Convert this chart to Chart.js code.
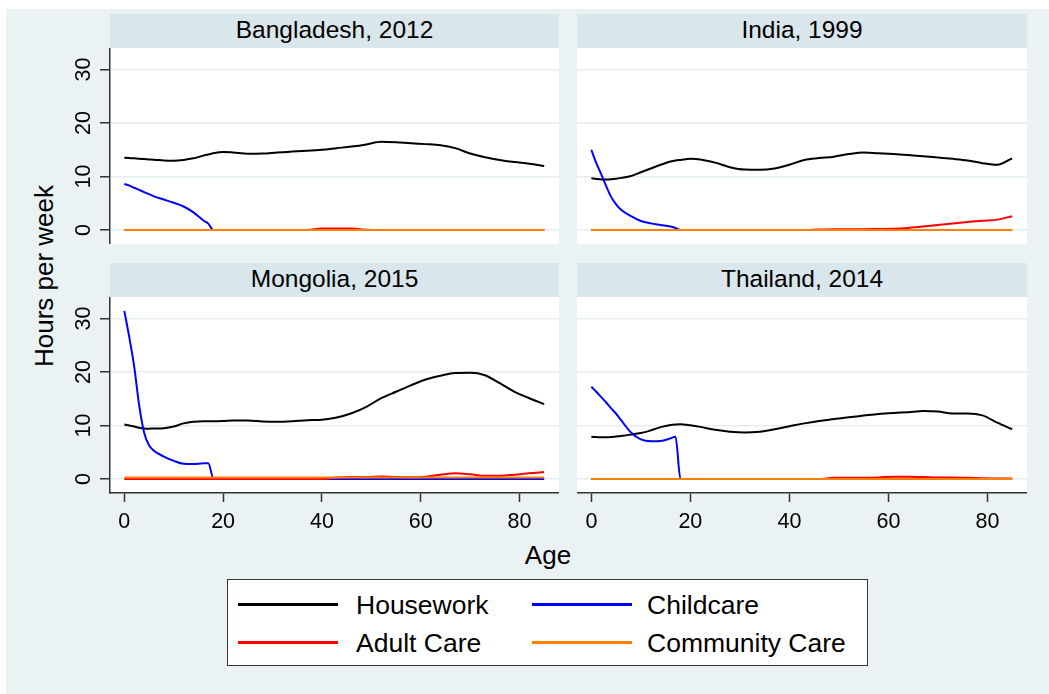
<!DOCTYPE html>
<html>
<head>
<meta charset="utf-8">
<script src="https://cdn.jsdelivr.net/npm/chart.js@4.4.1/dist/chart.umd.min.js"></script>
<style>
  html, body { margin: 0; padding: 0; background: #fff; }
  body { width: 1049px; height: 694px; position: relative; overflow: hidden;
         font-family: "Liberation Sans", Arial, sans-serif; color: #000; }
  #frame { position: absolute; left: 6px; top: 9px; right: 0; bottom: 0; background: #eaf2f3; }
  .strip { position: absolute; height: 34px; line-height: 32px; background: #d9e6eb;
           text-align: center; font-size: 24.5px; white-space: nowrap; }
  canvas { position: absolute; }
  #ytitle { position: absolute; left: -56px; top: 263px; width: 200px; height: 26px;
            line-height: 26px; font-size: 26px; text-align: center; transform: rotate(-90deg); }
  #xtitle { position: absolute; left: 448px; top: 542px; width: 200px; height: 26px;
            line-height: 26px; font-size: 26px; text-align: center; }
  #legend { position: absolute; left: 227px; top: 579px; width: 641px; height: 87px;
            box-sizing: border-box; border: 1.5px solid #333; background: #fff; }
  #legend .swatch { position: absolute; width: 100px; height: 2.5px; }
  #legend .label { position: absolute; font-size: 26.5px; line-height: 26px; white-space: nowrap; }
</style>
</head>
<body>
<div id="frame"></div>
<div id="ytitle">Hours per week</div>
<div id="xtitle">Age</div>
<div id="legend"></div>

<script>
// ages at which the smoothed hours were read
const ages = [0, 1, 2, 3, 4, 5, 6, 8, 10, 12, 14, 16, 17, 18, 20, 22, 25, 28, 31, 34, 37,
              40, 43, 46, 49, 52, 55, 58, 61, 64, 67, 70, 73, 76, 79, 82, 85];

const xTicks = [0, 20, 40, 60, 80];
const yTicks = [0, 10, 20, 30];

const seriesNames = ['Housework', 'Childcare', 'Adult Care', 'Community Care'];
const seriesColors = ['#000000', '#0000ff', '#ff0000', '#ff7f00'];

const zeros = ages.map(() => 0);

// Bangladesh, 2012
const bdHousework = [13.5, 13.45, 13.4, 13.3, 13.25, 13.2, 13.15, 13.0, 12.95, 13.1, 13.4, 13.9, 14.1, 14.35,
                     14.6, 14.5, 14.25, 14.3, 14.5, 14.65, 14.8, 15.0, 15.3, 15.6, 16.0, 16.5, 16.4, 16.2,
                     16.05, 15.85, 15.3, 14.3, 13.6, 13.1, 12.7, 12.4, 11.95];
const bdChildcare = [8.6, 8.3, 7.9, 7.5, 7.1, 6.7, 6.3, 5.7, 5.1, 4.4, 3.3, 1.8, 1.2, 0,
                     0, 0, 0, 0, 0, 0, 0, 0, 0, 0, 0, 0, 0, 0, 0, 0, 0, 0, 0, 0, 0, 0, 0];
const bdAdultCare = [0, 0, 0, 0, 0, 0, 0, 0, 0, 0, 0, 0, 0, 0, 0, 0, 0, 0, 0, 0, 0,
                     0.3, 0.3, 0.3, 0.05, 0, 0, 0, 0, 0, 0, 0, 0, 0, 0, 0, 0];
const bdCommunity = zeros;

// India, 1999
const inHousework = [9.7, 9.55, 9.45, 9.45, 9.5, 9.6, 9.75, 10.1, 10.8, 11.5, 12.2, 12.8, 13.0, 13.1,
                     13.3, 13.2, 12.6, 11.75, 11.3, 11.25, 11.5, 12.2, 13.1, 13.45, 13.7, 14.2, 14.5, 14.35,
                     14.2, 14.0, 13.8, 13.55, 13.3, 13.0, 12.5, 12.2, 13.4];
const inChildcare = [15.0, 12.5, 10.4, 8.2, 6.2, 4.8, 3.8, 2.6, 1.7, 1.25, 0.95, 0.65, 0.4, 0,
                     0, 0, 0, 0, 0, 0, 0, 0, 0, 0, 0, 0, 0, 0, 0, 0, 0, 0, 0, 0, 0, 0, 0];
const inAdultCare = [0, 0, 0, 0, 0, 0, 0, 0, 0, 0, 0, 0, 0, 0, 0, 0, 0, 0, 0, 0, 0, 0, 0,
                     0.1, 0.15, 0.15, 0.15, 0.2, 0.25, 0.4, 0.65, 0.95, 1.25, 1.5, 1.75, 1.95, 2.6];
const inCommunity = zeros;

// Mongolia, 2015
const mnHousework = [10.2, 10.0, 9.8, 9.6, 9.45, 9.4, 9.45, 9.5, 9.8, 10.4, 10.7, 10.8, 10.8, 10.8,
                     10.85, 10.95, 10.95, 10.75, 10.7, 10.8, 11.0, 11.1, 11.5, 12.3, 13.5, 15.1, 16.3, 17.5,
                     18.6, 19.3, 19.8, 19.85, 19.4, 17.9, 16.3, 15.1, 14.0];
const mnChildcare = [31.4, 26.5, 21.0, 13.8, 8.7, 6.3, 5.3, 4.2, 3.4, 2.85, 2.8, 2.95, 2.95, 0.2,
                     0, 0, 0, 0, 0, 0, 0, 0, 0, 0, 0, 0, 0, 0, 0, 0, 0, 0, 0, 0, 0, 0, 0];
const mnAdultCare = [0, 0, 0, 0, 0, 0, 0, 0, 0, 0, 0, 0, 0, 0, 0, 0, 0, 0, 0, 0, 0, 0,
                     0.3, 0.4, 0.35, 0.5, 0.4, 0.35, 0.45, 0.8, 1.1, 0.9, 0.6, 0.6, 0.8, 1.1, 1.3];
const mnCommunity = ages.map(() => 0.3);

// Thailand, 2014
const thHousework = [7.9, 7.85, 7.8, 7.8, 7.85, 7.95, 8.05, 8.3, 8.6, 9.1, 9.7, 10.1, 10.2, 10.25,
                     10.05, 9.75, 9.2, 8.85, 8.7, 8.85, 9.3, 9.85, 10.4, 10.85, 11.2, 11.55, 11.85, 12.15,
                     12.35, 12.5, 12.7, 12.6, 12.25, 12.25, 11.9, 10.55, 9.3];
const thChildcare = [17.25, 16.3, 15.3, 14.3, 13.2, 12.2, 11.0, 8.7, 7.4, 7.05, 7.1, 7.6, 7.9, 0,
                     0, 0, 0, 0, 0, 0, 0, 0, 0, 0, 0, 0, 0, 0, 0, 0, 0, 0, 0, 0, 0, 0, 0];
const thAdultCare = [0, 0, 0, 0, 0, 0, 0, 0, 0, 0, 0, 0, 0, 0, 0, 0, 0, 0, 0, 0, 0, 0, 0, 0,
                     0.25, 0.25, 0.25, 0.3, 0.45, 0.45, 0.4, 0.3, 0.3, 0.25, 0.15, 0.1, 0.1];
const thCommunity = zeros;

const panelTitles = ['Bangladesh, 2012', 'India, 1999', 'Mongolia, 2015', 'Thailand, 2014'];
const panelValues = [
  [bdHousework, bdChildcare, bdAdultCare, bdCommunity],
  [inHousework, inChildcare, inAdultCare, inCommunity],
  [mnHousework, mnChildcare, mnAdultCare, mnCommunity],
  [thHousework, thChildcare, thAdultCare, thCommunity]
];

// page boxes: strip header and canvas for each panel (top-left, top-right, bottom-left, bottom-right)
const panelBoxes = [
  { strip: [110, 14, 449], canvas: [30, 48, 529, 196], showY: true,  showX: false },
  { strip: [577, 14, 450], canvas: [577, 48, 450, 196], showY: false, showX: false },
  { strip: [110, 263, 449], canvas: [30, 297, 529, 243], showY: true,  showX: true },
  { strip: [577, 263, 450], canvas: [577, 297, 450, 243], showY: false, showX: true }
];

const fontFamily = '"Liberation Sans", Arial, sans-serif';
Chart.defaults.font.family = fontFamily;
Chart.defaults.color = '#000';

// white plot region behind grid and lines
const plotBackground = {
  id: 'plotBackground',
  beforeDraw(chart) {
    const { ctx, chartArea: a } = chart;
    ctx.save();
    ctx.fillStyle = '#fff';
    ctx.fillRect(a.left, a.top, a.right - a.left, a.bottom - a.top);
    ctx.restore();
  }
};

function makePanel(idx) {
  const box = panelBoxes[idx];

  const strip = document.createElement('div');
  strip.className = 'strip';
  strip.style.left = box.strip[0] + 'px';
  strip.style.top = box.strip[1] + 'px';
  strip.style.width = box.strip[2] + 'px';
  strip.textContent = panelTitles[idx];
  document.body.appendChild(strip);

  const canvas = document.createElement('canvas');
  canvas.width = box.canvas[2];
  canvas.height = box.canvas[3];
  canvas.style.left = box.canvas[0] + 'px';
  canvas.style.top = box.canvas[1] + 'px';
  document.body.appendChild(canvas);

  const datasets = seriesNames.map((name, i) => ({
    label: name,
    data: ages.map((a, k) => ({ x: a, y: panelValues[idx][i][k] })),
    borderColor: seriesColors[i],
    borderWidth: 2,
    pointRadius: 0,
    fill: false,
    cubicInterpolationMode: 'monotone',
    order: 4 - i // community care ends up on top
  }));

  return new Chart(canvas, {
    type: 'line',
    data: { datasets: datasets },
    options: {
      responsive: false,
      animation: false,
      events: [],
      layout: { padding: 0 },
      plugins: { legend: { display: false }, tooltip: { enabled: false } },
      scales: {
        x: {
          type: 'linear',
          min: -2.9,
          max: 88,
          display: box.showX,
          afterBuildTicks: s => { s.ticks = xTicks.map(v => ({ value: v })); },
          afterFit: s => {
            if (box.showX) s.height = 47;
            s.paddingLeft = 0;
            s.paddingRight = 0;
          },
          grid: { drawOnChartArea: false, drawTicks: true, tickLength: 9, tickWidth: 1.5, tickColor: '#333' },
          border: { display: true, color: '#333', width: 1.5 },
          ticks: { padding: 7, maxRotation: 0, font: { size: 21.5 }, color: '#000' }
        },
        y: {
          type: 'linear',
          min: -2.6,
          max: 34,
          afterBuildTicks: s => { s.ticks = yTicks.map(v => ({ value: v })); },
          afterFit: s => {
            s.width = box.showY ? 80 : 0;
            s.paddingTop = 0;
            s.paddingBottom = 0;
          },
          grid: { color: '#e4edf0', lineWidth: 1.5, drawTicks: box.showY, tickLength: 10,
                  tickColor: '#333', tickWidth: 1.5 },
          border: { display: box.showY, color: '#333', width: 1.5 },
          ticks: { display: box.showY, padding: 4, minRotation: 90, maxRotation: 90,
                   crossAlign: 'center', font: { size: 21.5 }, color: '#000' }
        }
      }
    },
    plugins: [plotBackground]
  });
}

panelTitles.forEach((t, i) => makePanel(i));

// legend, two columns
const legend = document.getElementById('legend');
const legendCols = [[10, 128], [304, 419]];
const legendRows = [[23, 12], [61, 50]];
seriesNames.forEach((name, i) => {
  const col = legendCols[i % 2];
  const row = legendRows[Math.floor(i / 2)];
  const sw = document.createElement('div');
  sw.className = 'swatch';
  sw.style.left = col[0] + 'px';
  sw.style.top = row[0] + 'px';
  sw.style.background = seriesColors[i];
  legend.appendChild(sw);
  const lab = document.createElement('div');
  lab.className = 'label';
  lab.style.left = col[1] + 'px';
  lab.style.top = row[1] + 'px';
  lab.textContent = name;
  legend.appendChild(lab);
});
</script>
</body>
</html>
